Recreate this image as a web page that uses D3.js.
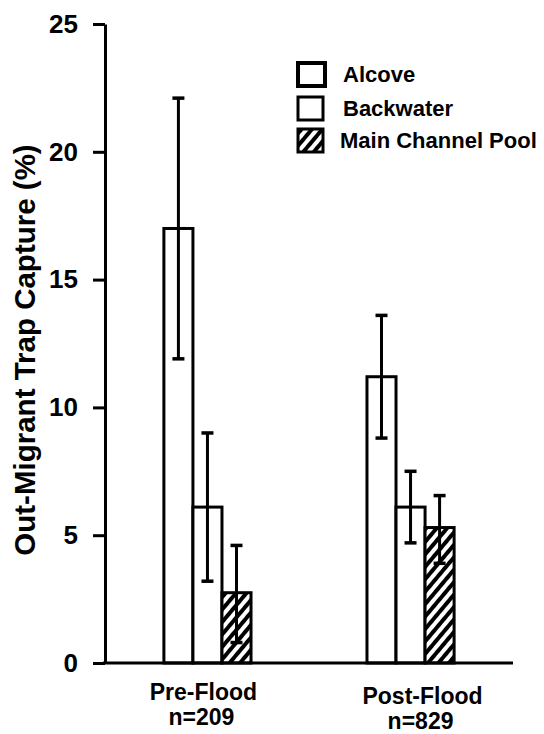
<!DOCTYPE html>
<html>
<head>
<meta charset="utf-8">
<script src="https://cdn.jsdelivr.net/npm/d3@7"></script>
<style>
  html, body { margin: 0; padding: 0; background: #fff; }
  svg { display: block; }
  text { font-family: "Liberation Sans", Arial, Helvetica, sans-serif; font-weight: bold; fill: #000; }
</style>
</head>
<body>
<svg id="chart" width="544" height="734"></svg>
<script>
// ---- data ----
const groups = ["Pre-Flood", "Post-Flood"];
const sampleSizes = ["n=209", "n=829"];
const seriesNames = ["Alcove", "Backwater", "Main Channel Pool"];
const alcove = [17.0, 11.2];
const backwater = [6.1, 6.1];
const mainChannelPool = [2.75, 5.3];
const alcoveLow = [11.9, 8.8];
const alcoveHigh = [22.1, 13.6];
const backwaterLow = [3.2, 4.7];
const backwaterHigh = [9.0, 7.5];
const mainChannelPoolLow = [0.8, 3.9];
const mainChannelPoolHigh = [4.6, 6.55];
const yTicks = [0, 5, 10, 15, 20, 25];
const yLabel = "Out-Migrant Trap Capture (%)";

const values = [alcove, backwater, mainChannelPool];
const lows = [alcoveLow, backwaterLow, mainChannelPoolLow];
const highs = [alcoveHigh, backwaterHigh, mainChannelPoolHigh];
const fills = ["#fff", "#fff", "url(#hatch)"];

const rows = [];
groups.forEach((g, gi) => seriesNames.forEach((s, si) => rows.push({
  group: g, series: s, value: values[si][gi], low: lows[si][gi], high: highs[si][gi], fill: fills[si]
})));

// ---- layout ----
const svg = d3.select("#chart");
const defs = svg.append("defs");
const pat = defs.append("pattern")
  .attr("id", "hatch").attr("patternUnits", "userSpaceOnUse")
  .attr("width", 8).attr("height", 8)
  .attr("patternTransform", "rotate(40)");
pat.append("rect").attr("width", 8).attr("height", 8).attr("fill", "#fff");
pat.append("rect").attr("x", 0).attr("y", 0).attr("width", 4).attr("height", 8).attr("fill", "#000");

const y = d3.scaleLinear().domain([0, 25]).range([663, 24]);
const x0 = d3.scaleBand().domain(groups).range([105, 513]).paddingInner(0.571).paddingOuter(0.29);
const x1 = d3.scaleBand().domain(seriesNames).range([0, x0.bandwidth()]).padding(0);

// y axis
const yAxis = svg.append("g").attr("transform", "translate(105,0)")
  .call(d3.axisLeft(y).tickValues(yTicks).tickSize(12).tickSizeOuter(0).tickPadding(15).tickFormat(d3.format("d")));
yAxis.select(".domain").attr("stroke", "#000").attr("stroke-width", 3);
yAxis.selectAll(".tick line").attr("stroke", "#000").attr("stroke-width", 3);
yAxis.selectAll(".tick text").attr("font-size", 26).attr("font-family", "Liberation Sans, Arial, sans-serif").attr("font-weight", "bold");

// bars
const gBars = svg.append("g");
gBars.selectAll("rect.bar").data(rows).join("rect")
  .attr("class", "bar")
  .attr("x", d => x0(d.group) + x1(d.series))
  .attr("y", d => y(d.value))
  .attr("width", x1.bandwidth())
  .attr("height", d => y(0) - y(d.value))
  .attr("fill", d => d.fill)
  .attr("stroke", "#000").attr("stroke-width", 3);

// error bars
const cx = d => x0(d.group) + x1(d.series) + x1.bandwidth() / 2;
gBars.selectAll("line.stem").data(rows).join("line")
  .attr("class", "stem")
  .attr("x1", cx).attr("x2", cx)
  .attr("y1", d => y(d.low)).attr("y2", d => y(d.high))
  .attr("stroke", "#000").attr("stroke-width", 3);
gBars.selectAll("line.capHi").data(rows).join("line")
  .attr("class", "capHi")
  .attr("x1", d => cx(d) - 6).attr("x2", d => cx(d) + 6)
  .attr("y1", d => y(d.high)).attr("y2", d => y(d.high))
  .attr("stroke", "#000").attr("stroke-width", 3.5);
gBars.selectAll("line.capLo").data(rows).join("line")
  .attr("class", "capLo")
  .attr("x1", d => cx(d) - 6).attr("x2", d => cx(d) + 6)
  .attr("y1", d => y(d.low)).attr("y2", d => y(d.low))
  .attr("stroke", "#000").attr("stroke-width", 3.5);

// x axis line
svg.append("line")
  .attr("x1", x0.range()[0] - 2).attr("x2", x0.range()[1])
  .attr("y1", y(0)).attr("y2", y(0))
  .attr("stroke", "#000").attr("stroke-width", 3);

// x labels
const labelDx = [-4, 12];
const labelDy = [0, 4];
groups.forEach((g, i) => {
  const c = x0(g) + x0.bandwidth() / 2 + labelDx[i];
  svg.append("text").attr("x", c).attr("y", 700 + labelDy[i])
    .attr("text-anchor", "middle").attr("font-size", 23).text(g);
  svg.append("text").attr("x", c - 2).attr("y", 725 + labelDy[i])
    .attr("text-anchor", "middle").attr("font-size", 23).text(sampleSizes[i]);
});

// y label
svg.append("text")
  .attr("transform", "translate(35,350) rotate(-90)")
  .attr("text-anchor", "middle").attr("font-size", 29.5).text(yLabel);

// legend
const legendX = 298, legendY = [63, 97, 129], legendTextX = [343, 343, 340];
const legendBoxW = [27, 25, 25];
seriesNames.forEach((s, i) => {
  svg.append("rect").attr("x", legendX).attr("y", legendY[i])
    .attr("width", legendBoxW[i]).attr("height", 23)
    .attr("fill", fills[i]).attr("stroke", "#000").attr("stroke-width", i === 0 ? 4 : 3);
  svg.append("text").attr("x", legendTextX[i]).attr("y", legendY[i] + 19)
    .attr("font-size", 22).text(s);
});
</script>
</body>
</html>
